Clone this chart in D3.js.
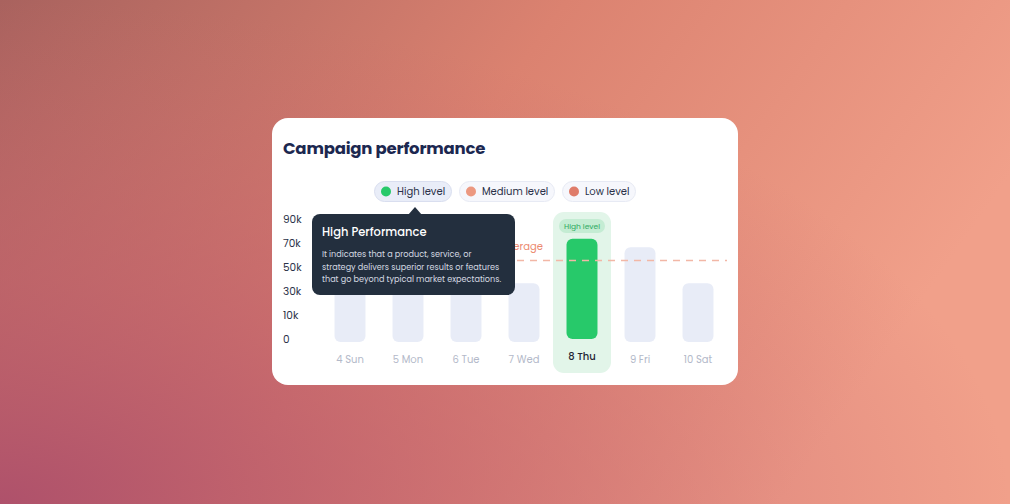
<!DOCTYPE html>
<html lang="en">
<head>
    <meta charset="UTF-8">
    <title>Campaign performance</title>
    <script src="https://d3js.org/d3.v7.min.js"></script>
    <style>
        html, body { margin: 0; padding: 0; overflow: hidden; }
        svg { display: block; font-family: "Poppins", Inter, "Noto Sans", sans-serif; }
    </style>
</head>
<body>
    <svg id="chart"></svg>
    <script>
        // chart data
        const days = ["4 Sun", "5 Mon", "6 Tue", "7 Wed", "8 Thu", "9 Fri", "10 Sat"];
        const values = [39, 39, 39, 39, 76, 69, 39]; // thousands
        const highlightDay = "8 Thu";
        const averageValue = 58;
        const yTicks = [0, 10, 30, 50, 70, 90];
        const yTickLabels = ["0", "10k", "30k", "50k", "70k", "90k"];
        const legendLabels = ["High level", "Medium level", "Low level"];
        const legendColors = ["#27c96a", "#ec9880", "#df7c6a"];
        const tooltipTitle = "High Performance";
        const tooltipLines = [
            "It indicates that a product, service, or",
            "strategy delivers superior results or features",
            "that go beyond typical market expectations."
        ];

        const W = 1010, H = 504;
        const svg = d3.select("#chart").attr("width", W).attr("height", H);
        const defs = svg.append("defs");

        // background
        const bg = defs.append("linearGradient").attr("id", "bg")
            .attr("x1", "0").attr("y1", "0").attr("x2", "1").attr("y2", "0.35");
        bg.append("stop").attr("offset", "0").attr("stop-color", "#a9625e");
        bg.append("stop").attr("offset", "0.5").attr("stop-color", "#db8270");
        bg.append("stop").attr("offset", "1").attr("stop-color", "#f1a08a");
        const bl = defs.append("radialGradient").attr("id", "bl")
            .attr("cx", "0").attr("cy", "1").attr("r", "1")
            .attr("gradientTransform", "translate(0,1) scale(1,1) translate(0,-1)");
        bl.append("stop").attr("offset", "0").attr("stop-color", "#ad4f6b").attr("stop-opacity", 0.95);
        bl.append("stop").attr("offset", "0.45").attr("stop-color", "#bf5e6c").attr("stop-opacity", 0.6);
        bl.append("stop").attr("offset", "1").attr("stop-color", "#c8666e").attr("stop-opacity", 0);
        svg.append("rect").attr("width", W).attr("height", H).attr("fill", "url(#bg)");
        svg.append("rect").attr("width", W).attr("height", H).attr("fill", "url(#bl)");

        // card
        const card = { x: 272, y: 118, w: 466, h: 267 };
        svg.append("rect").attr("x", card.x).attr("y", card.y)
            .attr("width", card.w).attr("height", card.h)
            .attr("rx", 16).attr("fill", "#ffffff");

        svg.append("text").attr("x", 283).attr("y", 154)
            .attr("font-size", 16.5).attr("font-weight", 700)
            .attr("fill", "#1c2850").attr("letter-spacing", -0.2)
            .text("Campaign performance");

        // scales
        const x = d3.scaleBand().domain(days).range([321, 727]).paddingInner(0.466).paddingOuter(0.233);
        const y = d3.scaleLinear()
            .domain(yTicks)
            .range(yTicks.map((d, i) => 342 - i * 24));

        // y labels
        svg.append("g").selectAll("text").data(yTicks).join("text")
            .attr("x", 283).attr("y", d => y(d) - 3)
            .attr("dy", "0.35em")
            .attr("font-size", 10.5).attr("fill", "#2a3148")
            .text((d, i) => yTickLabels[i]);

        // highlight column
        const hx = x(highlightDay) + x.bandwidth() / 2;
        svg.append("rect")
            .attr("x", hx - 29).attr("y", 212)
            .attr("width", 58).attr("height", 161)
            .attr("rx", 11).attr("fill", "#e2f5e9");
        svg.append("rect")
            .attr("x", hx - 23).attr("y", 219)
            .attr("width", 46).attr("height", 14)
            .attr("rx", 7).attr("fill", "#c4ecd3");
        svg.append("text").attr("x", hx).attr("y", 226).attr("dy", "0.35em")
            .attr("text-anchor", "middle").attr("font-size", 7.5)
            .attr("fill", "#2fab62").text("High level");

        // bars
        svg.append("g").selectAll("rect").data(days).join("rect")
            .attr("x", d => x(d))
            .attr("y", (d, i) => y(values[i]))
            .attr("width", x.bandwidth())
            .attr("height", (d, i) => y(0) - y(values[i]) - (d === highlightDay ? 3 : 0))
            .attr("rx", 6)
            .attr("fill", d => d === highlightDay ? "#27c96a" : "#e8ecf7");

        // x labels
        svg.append("g").selectAll("text").data(days).join("text")
            .attr("x", d => x(d) + x.bandwidth() / 2)
            .attr("y", d => d === highlightDay ? 356 : 359)
            .attr("dy", "0.35em")
            .attr("text-anchor", "middle")
            .attr("font-size", 10)
            .attr("font-weight", d => d === highlightDay ? 500 : 400)
            .attr("fill", d => d === highlightDay ? "#1f2433" : "#b3b9c9")
            .text(d => d);

        // average line
        svg.append("line")
            .attr("x1", 335).attr("x2", 727)
            .attr("y1", y(averageValue)).attr("y2", y(averageValue))
            .attr("stroke", "#f2b7a6").attr("stroke-width", 1.5)
            .attr("stroke-dasharray", "7,6");
        svg.append("text").attr("x", 543).attr("y", y(averageValue) - 10)
            .attr("text-anchor", "end").attr("font-size", 10)
            .attr("fill", "#ec8a70").text("Average");

        // legend
        const pillW = [78, 96, 74];
        let px = 374;
        const legend = svg.append("g");
        legendLabels.forEach((lab, i) => {
            const g = legend.append("g").attr("transform", `translate(${px},181)`);
            g.append("rect").attr("x", 0.5).attr("y", 0.5)
                .attr("width", pillW[i] - 1).attr("height", 20)
                .attr("rx", 10)
                .attr("fill", i === 0 ? "#e9edf8" : "#f6f7fc")
                .attr("stroke", i === 0 ? "#d9deef" : "#e7eaf4");
            g.append("circle").attr("cx", 12).attr("cy", 10.5).attr("r", 5)
                .attr("fill", legendColors[i]);
            g.append("text").attr("x", 23).attr("y", 10.5).attr("dy", "0.35em")
                .attr("font-size", 10).attr("fill", "#2a3148").text(lab);
            px += pillW[i] + 7;
        });

        // tooltip
        const tip = svg.append("g");
        tip.append("path")
            .attr("d", "M408,215 L415,207 L422,215 Z")
            .attr("fill", "#232f3e");
        tip.append("rect").attr("x", 312).attr("y", 214)
            .attr("width", 203).attr("height", 81)
            .attr("rx", 8).attr("fill", "#232f3e");
        tip.append("text").attr("x", 322).attr("y", 232).attr("dy", "0.35em")
            .attr("font-size", 11.5).attr("font-weight", 500)
            .attr("fill", "#ffffff").text(tooltipTitle);
        tip.selectAll("text.line").data(tooltipLines).join("text")
            .attr("class", "line")
            .attr("x", 322).attr("y", (d, i) => 254 + i * 12.7).attr("dy", "0.35em")
            .attr("font-size", 8.1).attr("fill", "#d5dae2")
            .text(d => d);
    </script>
</body>
</html>
